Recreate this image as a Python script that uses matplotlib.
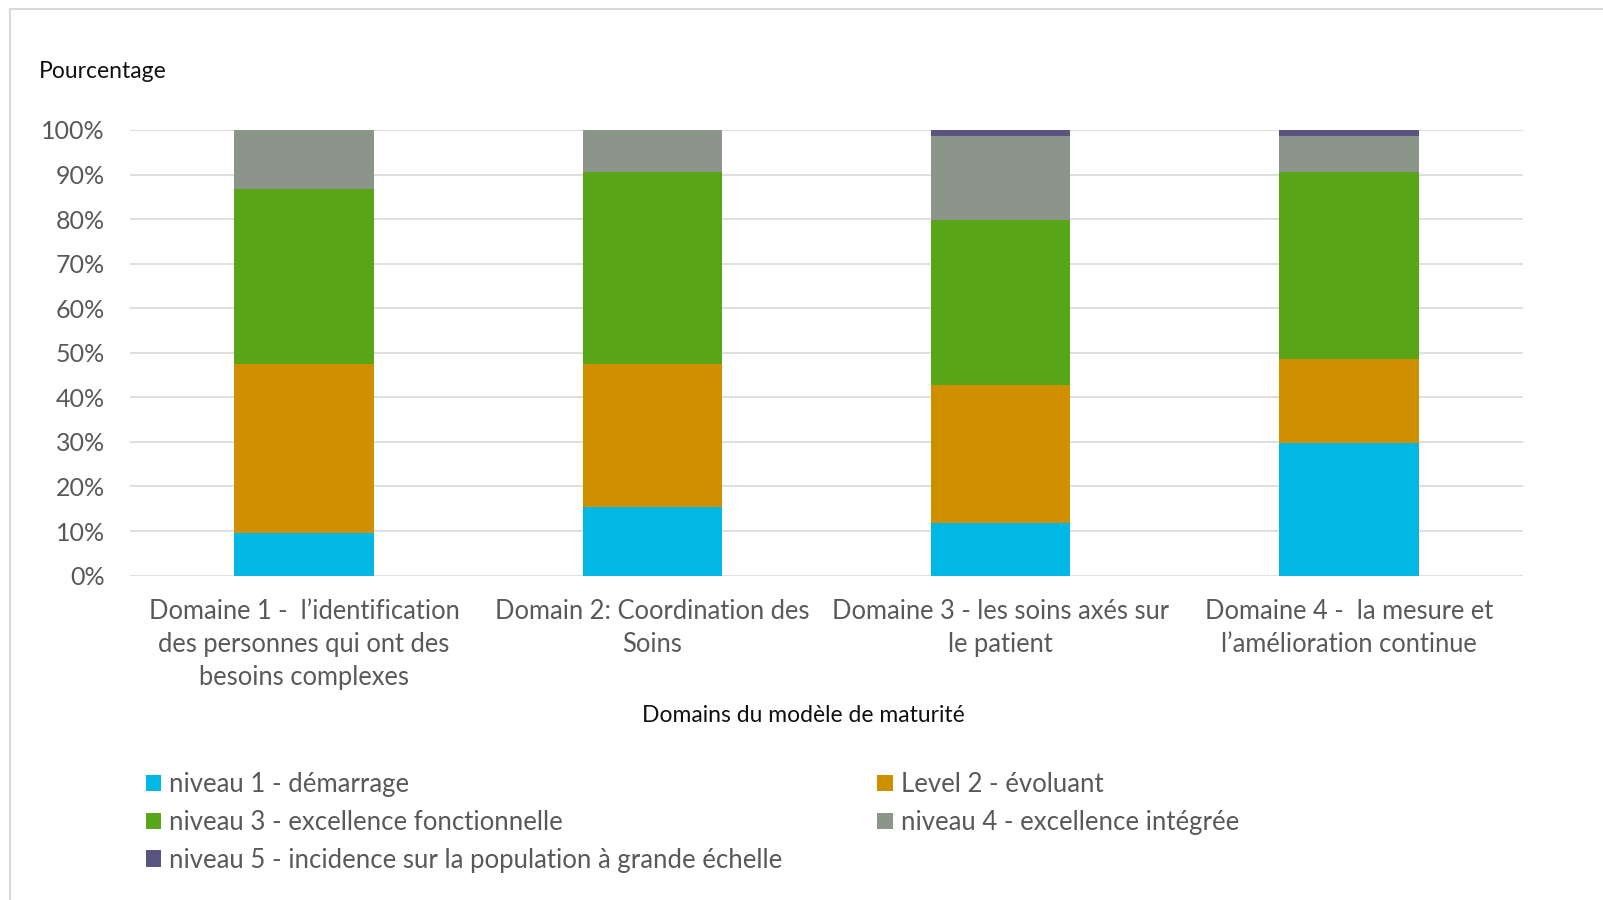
import matplotlib
matplotlib.use("Agg")
import matplotlib.pyplot as plt
import numpy as np
from matplotlib.lines import Line2D

plt.rcParams["font.family"] = ["Lato", "DejaVu Sans"]

categories = [
    "Domaine 1 -  l\u2019identification\ndes personnes qui ont des\nbesoins complexes",
    "Domain 2: Coordination des\nSoins",
    "Domaine 3 - les soins axés sur\nle patient",
    "Domaine 4 -  la mesure et\nl\u2019amélioration continue",
]
series = [
    "niveau 1 - démarrage",
    "Level 2 - évoluant",
    "niveau 3 - excellence fonctionnelle",
    "niveau 4 - excellence intégrée",
    "niveau 5 - incidence sur la population à grande échelle",
]
niveau1 = [9.5, 15.3, 11.8, 29.7]
level2 = [38.0, 32.2, 30.9, 19.0]
niveau3 = [39.3, 43.1, 37.0, 41.9]
niveau4 = [13.2, 9.4, 18.9, 8.0]
niveau5 = [0.0, 0.0, 1.4, 1.4]
colors = ["#00B8E3", "#CF9000", "#58A618", "#8C9589", "#595481"]

fig = plt.figure(figsize=(16.03, 9.0), dpi=100)
ax = fig.add_axes([130 / 1603, 1 - 575.6 / 900, 1393 / 1603, 445.6 / 900])

x = np.arange(len(categories))
bottom = np.zeros(len(categories))
bars = []
for name, vals, c in zip(series, [niveau1, level2, niveau3, niveau4, niveau5], colors):
    b = ax.bar(x, vals, 0.4, bottom=bottom, color=c, label=name, zorder=3)
    bars.append(b)
    bottom += np.array(vals)

ax.set_xlim(-0.5, len(categories) - 0.5)
ax.set_ylim(0, 100)
ax.set_yticks(np.arange(0, 101, 10))
ax.set_yticklabels([f"{v}%" for v in range(0, 101, 10)])
ax.set_xticks(x)
ax.set_xticklabels(categories, linespacing=1.4)
ax.tick_params(axis="y", length=0, pad=18, labelsize=18, labelcolor="#595959")
ax.tick_params(axis="x", length=0, pad=17, labelsize=18.4, labelcolor="#595959")
ax.grid(axis="y", color="#D9D9D9", linewidth=1.2, zorder=0)
for s in ax.spines.values():
    s.set_visible(False)

fig.text(39 / 1603, 1 - 71 / 900, "Pourcentage", fontsize=16.5, color="#111111", va="center")
fig.text(803 / 1603, 1 - 715 / 900, "Domains du modèle de maturité", fontsize=16.5,
         color="#111111", ha="center", va="center")

# outer chart frame (left and top edges visible)
fig.add_artist(Line2D([10 / 1603, 10 / 1603], [0, 1 - 9 / 900], color="#D9D9D9", lw=1.5))
fig.add_artist(Line2D([10 / 1603, 1], [1 - 9 / 900, 1 - 9 / 900], color="#D9D9D9", lw=1.5))

order = [0, 2, 4, 1, 3]
leg = fig.legend([bars[i] for i in order], [series[i] for i in order], ncol=2,
                 loc="upper left", bbox_to_anchor=(146 / 1603, 1 - 772 / 900),
                 frameon=False, fontsize=18.5, handlelength=0.6, handleheight=0.6,
                 handletextpad=0.3, labelspacing=0.5, columnspacing=3.7,
                 borderaxespad=0, borderpad=0)
for t in leg.get_texts():
    t.set_color("#595959")

fig.savefig("out.png", dpi=100)
